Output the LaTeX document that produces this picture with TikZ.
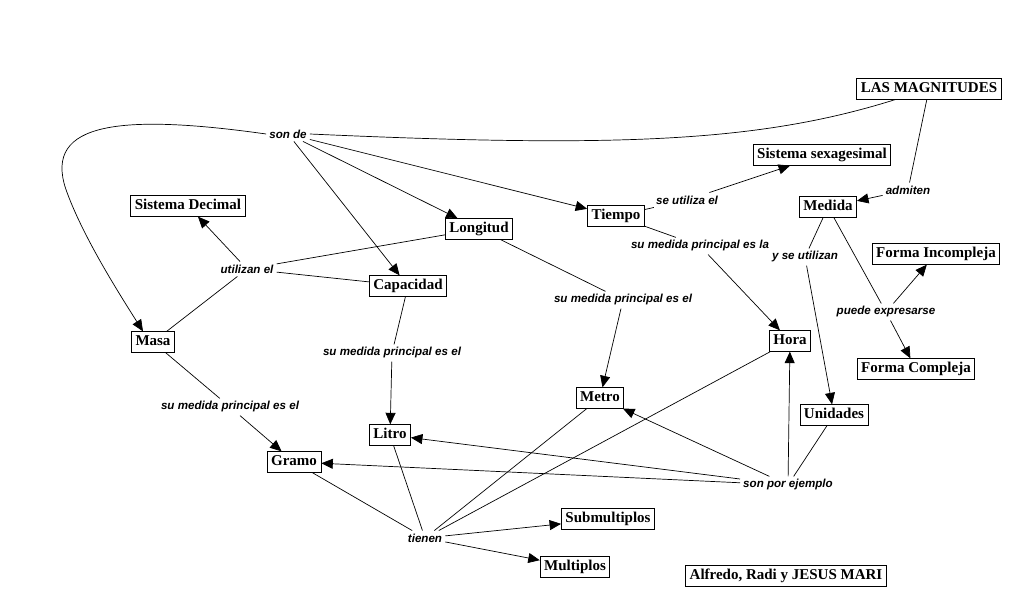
\documentclass[tikz,border=0pt]{standalone}
\usepackage{fontspec}
\newfontfamily\boxfont{Liberation Serif}
\newfontfamily\lblfont{Liberation Sans}
\usetikzlibrary{arrows.meta}
\tikzset{
  box/.style={draw, line width=0.8pt, inner xsep=4pt, inner ysep=3.5pt, text height=10.5pt, text depth=3pt,
    font=\boxfont\bfseries\fontsize{15}{17}\selectfont},
  lbl/.style={inner sep=3pt, font=\lblfont\bfseries\itshape\fontsize{11.6}{13}\selectfont},
  con/.style={line width=0.7pt},
  arr/.style={con, -{Triangle[length=11.5pt,width=10pt]}},
}
\begin{document}
\begin{tikzpicture}[x=1pt,y=-1pt]
\useasboundingbox (0,0) rectangle (1026,609);
% concept boxes
\node[box] (mag) at (929,89) {LAS MAGNITUDES};
\node[box] (sisdec) at (188,206) {Sistema Decimal};
\node[box] (long) at (479,229) {Longitud};
\node[box] (cap) at (408,286) {Capacidad};
\node[box] (masa) at (153,342) {Masa};
\node[box] (tiempo) at (616,216) {Tiempo};
\node[box] (sexag) at (822,155) {Sistema sexagesimal};
\node[box] (medida) at (828,207) {Medida};
\node[box] (finc) at (936,254) {Forma Incompleja};
\node[box] (fcomp) at (916,369) {Forma Compleja};
\node[box] (hora) at (790,341) {Hora};
\node[box] (unid) at (834,415) {Unidades};
\node[box] (metro) at (600,398) {Metro};
\node[box] (litro) at (390,435) {Litro};
\node[box] (gramo) at (294,462) {Gramo};
\node[box] (submult) at (608,519) {Submultiplos};
\node[box] (mult) at (575,567) {Multiplos};
\node[box] (autores) at (786,576) {Alfredo, Radi y JESUS MARI};
% linking phrases
\node[lbl] (sonde) at (288,134) {son de};
\node[lbl] (utiliz) at (247,269) {utilizan el};
\node[lbl] (seutil) at (687,200) {se utiliza el};
\node[lbl] (admiten) at (908,190) {admiten};
\node[lbl] (smla) at (700,246) {su medida principal es la};
\node[lbl] (yseutil) at (805,257) {y se utilizan};
\node[lbl] (puede) at (886,312) {puede expresarse};
\node[lbl] (smlong) at (623,300) {su medida principal es el};
\node[lbl] (smcap) at (392,353) {su medida principal es el};
\node[lbl] (smmasa) at (230,407) {su medida principal es el};
\node[lbl] (sonpor) at (788,485) {son por ejemplo};
\node[lbl] (tienen) at (425,538) {tienen};
% connectors
\draw[con] (mag) .. controls (760,142) and (620,148) .. (sonde.east);
\draw[arr] (sonde.west) .. controls (110,112) and (40,125) .. (68,195)
           .. controls (85,240) and (120,295) .. ([xshift=-10pt]masa.north);
\draw[arr] (sonde) -- (long);
\draw[arr] (sonde) -- (cap);
\draw[arr] (sonde) -- (tiempo);
\draw[con] (long) -- (utiliz);
\draw[con] (cap) -- (utiliz);
\draw[con] (masa) -- (utiliz);
\draw[arr] (utiliz) -- (sisdec);
\draw[con] (masa) -- (smmasa);
\draw[arr] (smmasa) -- (gramo);
\draw[con] (cap) -- (smcap);
\draw[arr] (smcap) -- (litro);
\draw[con] (long) -- (smlong);
\draw[arr] (smlong) -- (metro);
\draw[con] (tiempo) -- (seutil);
\draw[arr] (seutil) -- (sexag);
\draw[con] (tiempo) -- (smla);
\draw[arr] (smla) -- (hora);
\draw[con] (mag) -- (admiten);
\draw[arr] (admiten) -- (medida);
\draw[con] (medida) -- (yseutil);
\draw[arr] (yseutil) -- (unid);
\draw[con] (medida) -- (puede);
\draw[arr] (puede) -- (finc);
\draw[arr] (puede) -- (fcomp);
\draw[con] (unid) -- (sonpor);
\draw[arr] (sonpor) -- (hora);
\draw[arr] (sonpor) -- (metro);
\draw[arr] (sonpor) -- (litro);
\draw[arr] (sonpor) -- (gramo);
\draw[con] (gramo) -- (tienen);
\draw[con] (litro) -- (tienen);
\draw[con] (metro) -- (tienen);
\draw[con] (hora) -- (tienen);
\draw[arr] (tienen) -- (submult);
\draw[arr] (tienen) -- (mult);
\end{tikzpicture}
\end{document}
